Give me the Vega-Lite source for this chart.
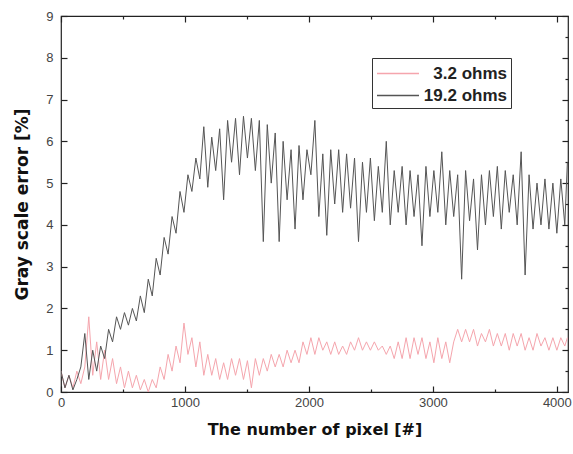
{
  "$schema": "https://vega.github.io/schema/vega-lite/v6.json",
  "width": 507,
  "height": 376,
  "autosize": "none",
  "padding": {"left": 61, "top": 16, "right": 5, "bottom": 62},
  "background": "white",
  "config": {"view": {"stroke": "#222", "strokeWidth": 1.2}, "font": "Liberation Sans"},
  "data": {"values": [
    {"x":0,"r19":0.5,"r3":0.5},{"x":32,"r19":0.1,"r3":0.1},{"x":64,"r19":0.4,"r3":0.4},{"x":96,"r19":0.05,"r3":0.1},
    {"x":128,"r19":0.3,"r3":0.5},{"x":160,"r19":0.6,"r3":0.2},{"x":192,"r19":1.4,"r3":0.6},{"x":224,"r19":0.3,"r3":1.8},
    {"x":256,"r19":1.0,"r3":0.4},{"x":288,"r19":0.5,"r3":1.2},{"x":320,"r19":1.1,"r3":0.3},{"x":352,"r19":0.8,"r3":1.0},
    {"x":384,"r19":1.5,"r3":0.3},{"x":416,"r19":1.2,"r3":0.8},{"x":448,"r19":1.8,"r3":0.2},{"x":480,"r19":1.5,"r3":0.6},
    {"x":512,"r19":1.9,"r3":0.1},{"x":544,"r19":1.6,"r3":0.5},{"x":576,"r19":2.0,"r3":0.1},{"x":608,"r19":1.7,"r3":0.4},
    {"x":640,"r19":2.3,"r3":0.05},{"x":672,"r19":1.9,"r3":0.3},{"x":704,"r19":2.7,"r3":0.0},{"x":736,"r19":2.3,"r3":0.3},
    {"x":768,"r19":3.2,"r3":0.1},{"x":800,"r19":2.8,"r3":0.6},{"x":832,"r19":3.7,"r3":0.3},{"x":864,"r19":3.3,"r3":0.9},
    {"x":896,"r19":4.2,"r3":0.5},{"x":928,"r19":3.8,"r3":1.1},{"x":960,"r19":4.8,"r3":0.7},{"x":992,"r19":4.3,"r3":1.65},
    {"x":1024,"r19":5.2,"r3":0.9},{"x":1056,"r19":4.8,"r3":1.3},{"x":1088,"r19":5.6,"r3":0.6},{"x":1120,"r19":5.1,"r3":1.2},
    {"x":1152,"r19":6.35,"r3":0.4},{"x":1184,"r19":4.9,"r3":0.9},{"x":1216,"r19":6.1,"r3":0.4},{"x":1248,"r19":5.3,"r3":0.8},
    {"x":1280,"r19":6.3,"r3":0.3},{"x":1312,"r19":4.6,"r3":0.7},{"x":1344,"r19":6.5,"r3":0.3},{"x":1376,"r19":5.5,"r3":0.8},
    {"x":1408,"r19":6.55,"r3":0.4},{"x":1440,"r19":5.2,"r3":0.8},{"x":1472,"r19":6.6,"r3":0.3},{"x":1504,"r19":5.6,"r3":0.75},
    {"x":1536,"r19":6.55,"r3":0.1},{"x":1568,"r19":5.3,"r3":0.8},{"x":1600,"r19":6.5,"r3":0.4},{"x":1632,"r19":3.6,"r3":0.8},
    {"x":1664,"r19":6.4,"r3":0.5},{"x":1696,"r19":5.0,"r3":0.9},{"x":1728,"r19":6.2,"r3":0.6},{"x":1760,"r19":3.6,"r3":0.9},
    {"x":1792,"r19":6.0,"r3":0.6},{"x":1824,"r19":4.6,"r3":1.0},{"x":1856,"r19":5.8,"r3":0.7},{"x":1888,"r19":3.9,"r3":1.0},
    {"x":1920,"r19":5.9,"r3":0.7},{"x":1952,"r19":4.6,"r3":1.2},{"x":1984,"r19":5.8,"r3":0.9},{"x":2016,"r19":5.2,"r3":1.3},
    {"x":2048,"r19":6.5,"r3":0.9},{"x":2080,"r19":4.2,"r3":1.3},{"x":2112,"r19":5.7,"r3":1.0},{"x":2144,"r19":3.75,"r3":1.2},
    {"x":2176,"r19":5.8,"r3":0.9},{"x":2208,"r19":4.5,"r3":1.2},{"x":2240,"r19":5.8,"r3":0.9},{"x":2272,"r19":4.3,"r3":1.1},
    {"x":2304,"r19":5.7,"r3":0.9},{"x":2336,"r19":4.4,"r3":1.2},{"x":2368,"r19":5.6,"r3":1.0},{"x":2400,"r19":3.6,"r3":1.3},
    {"x":2432,"r19":5.5,"r3":1.0},{"x":2464,"r19":4.3,"r3":1.2},{"x":2496,"r19":5.6,"r3":1.0},{"x":2528,"r19":4.1,"r3":1.2},
    {"x":2560,"r19":5.4,"r3":1.0},{"x":2592,"r19":4.3,"r3":1.1},{"x":2624,"r19":6.0,"r3":0.9},{"x":2656,"r19":4.0,"r3":1.1},
    {"x":2688,"r19":5.3,"r3":0.8},{"x":2720,"r19":4.3,"r3":1.2},{"x":2752,"r19":5.4,"r3":0.8},{"x":2784,"r19":4.0,"r3":1.3},
    {"x":2816,"r19":5.3,"r3":0.8},{"x":2848,"r19":4.2,"r3":1.3},{"x":2880,"r19":5.2,"r3":0.9},{"x":2912,"r19":3.5,"r3":1.3},
    {"x":2944,"r19":5.4,"r3":0.8},{"x":2976,"r19":4.2,"r3":1.2},{"x":3008,"r19":5.3,"r3":0.7},{"x":3040,"r19":4.3,"r3":1.3},
    {"x":3072,"r19":5.75,"r3":0.8},{"x":3104,"r19":4.0,"r3":1.2},{"x":3136,"r19":5.3,"r3":0.7},{"x":3168,"r19":4.2,"r3":1.2},
    {"x":3200,"r19":5.2,"r3":1.5},{"x":3232,"r19":2.7,"r3":1.2},{"x":3264,"r19":5.3,"r3":1.5},{"x":3296,"r19":4.1,"r3":1.2},
    {"x":3328,"r19":5.1,"r3":1.5},{"x":3360,"r19":3.4,"r3":1.1},{"x":3392,"r19":5.2,"r3":1.4},{"x":3424,"r19":4.0,"r3":1.2},
    {"x":3456,"r19":5.3,"r3":1.5},{"x":3488,"r19":4.2,"r3":1.1},{"x":3520,"r19":5.4,"r3":1.4},{"x":3552,"r19":3.9,"r3":1.1},
    {"x":3584,"r19":5.3,"r3":1.4},{"x":3616,"r19":4.3,"r3":1.0},{"x":3648,"r19":5.2,"r3":1.4},{"x":3680,"r19":4.0,"r3":1.1},
    {"x":3712,"r19":5.75,"r3":1.4},{"x":3744,"r19":2.8,"r3":1.0},{"x":3776,"r19":5.2,"r3":1.3},{"x":3808,"r19":3.9,"r3":1.0},
    {"x":3840,"r19":5.0,"r3":1.4},{"x":3872,"r19":4.0,"r3":1.1},{"x":3904,"r19":5.1,"r3":1.3},{"x":3936,"r19":3.9,"r3":1.0},
    {"x":3968,"r19":5.0,"r3":1.3},{"x":4000,"r19":3.8,"r3":1.0},{"x":4032,"r19":5.1,"r3":1.3},{"x":4064,"r19":4.0,"r3":1.1},
    {"x":4085,"r19":5.5,"r3":1.3}
  ]},
  "transform": [{"fold": ["r3", "r19"], "as": ["s", "y"]}],
  "layer": [
    {
      "mark": {"type": "line", "strokeWidth": 1, "clip": true},
      "encoding": {
        "x": {
          "field": "x", "type": "quantitative",
          "scale": {"domain": [0, 4090], "nice": false, "zero": false},
          "axis": {
            "orient": "bottom",
            "values": [0,500,1000,1500,2000,2500,3000,3500,4000],
            "format": "d",
            "labelExpr": "datum.value % 1000 === 0 ? datum.label : ''",
            "tickSize": {"condition": {"test": "datum.value % 1000 !== 0", "value": -3}, "value": -6},
            "tickColor": "#222", "tickWidth": 1.2,
            "domain": false, "grid": false,
            "labelFont": "Liberation Sans", "labelFontSize": 13, "labelColor": "#444", "labelPadding": 10,
            "labelFlush": false,
            "title": "The number of pixel [#]",
            "titleFont": "DejaVu Sans", "titleFontSize": 16, "titleFontWeight": "bold", "titleColor": "#111",
            "titlePadding": 12
          }
        },
        "y": {
          "field": "y", "type": "quantitative",
          "scale": {"domain": [0, 9], "nice": false},
          "axis": {
            "orient": "left",
            "values": [0,0.5,1,1.5,2,2.5,3,3.5,4,4.5,5,5.5,6,6.5,7,7.5,8,8.5,9],
            "format": "d",
            "labelExpr": "datum.value % 1 === 0 ? datum.label : ''",
            "tickSize": {"condition": {"test": "datum.value % 1 !== 0", "value": -3}, "value": -6},
            "tickColor": "#222", "tickWidth": 1.2,
            "domain": false, "grid": false,
            "labelFont": "Liberation Sans", "labelFontSize": 13, "labelColor": "#444", "labelPadding": 14,
            "title": "Gray scale error [%]",
            "titleFont": "DejaVu Sans", "titleFontSize": 17, "titleFontWeight": "bold", "titleColor": "#111",
            "titlePadding": 14
          }
        },
        "color": {
          "field": "s", "type": "nominal",
          "scale": {"domain": ["r3", "r19"], "range": ["#f5a5ad", "#555555"]},
          "legend": {
            "orient": "none", "legendX": 311, "legendY": 42,
            "title": null,
            "strokeColor": "#333", "padding": 4,
            "symbolType": "M-1,0L3,0", "symbolSize": 441, "symbolStrokeWidth": 1.5,
            "labelExpr": "datum.value === 'r3' ? '3.2 ohms' : '19.2 ohms'",
            "labelFont": "Liberation Sans", "labelFontSize": 17, "labelFontWeight": "bold", "labelColor": "#222",
            "labelAlign": "right", "labelOffset": 108, "rowPadding": 2
          }
        }
      }
    },
    {
      "mark": {"type": "line", "opacity": 0},
      "encoding": {
        "x": {
          "field": "x", "type": "quantitative",
          "axis": {
            "orient": "top",
            "values": [0,500,1000,1500,2000,2500,3000,3500,4000],
            "labels": false, "title": null, "domain": false, "grid": false,
            "tickSize": {"condition": {"test": "datum.value % 1000 !== 0", "value": -3}, "value": -6},
            "tickColor": "#222", "tickWidth": 1.2
          }
        },
        "y": {
          "field": "y", "type": "quantitative",
          "axis": {
            "orient": "right",
            "values": [0,0.5,1,1.5,2,2.5,3,3.5,4,4.5,5,5.5,6,6.5,7,7.5,8,8.5,9],
            "labels": false, "title": null, "domain": false, "grid": false,
            "tickSize": {"condition": {"test": "datum.value % 1 !== 0", "value": -3}, "value": -6},
            "tickColor": "#222", "tickWidth": 1.2
          }
        },
        "detail": {"field": "s", "type": "nominal"}
      }
    }
  ],
  "resolve": {"axis": {"x": "independent", "y": "independent"}}
}
